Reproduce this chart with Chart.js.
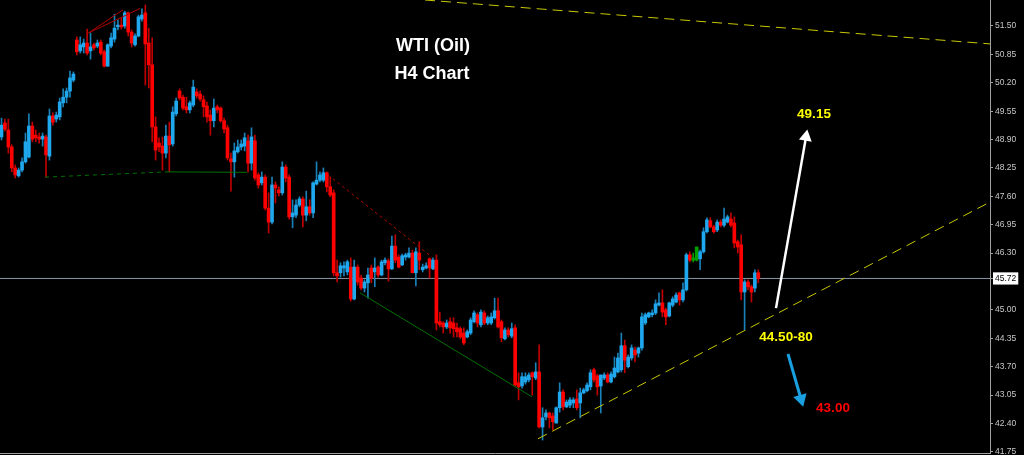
<!DOCTYPE html>
<html>
<head>
<meta charset="utf-8">
<title>WTI (Oil) H4</title>
<script src="https://cdn.jsdelivr.net/npm/chart.js@4.4.1/dist/chart.umd.min.js"></script>
<style>
  html, body { margin: 0; padding: 0; background: #000; }
  #wrap { width: 1024px; height: 455px; position: relative; }
</style>
</head>
<body>
<div id="wrap"><canvas id="myChart"></canvas></div>
<script>
// H4 candles, oldest first
const open = [
  48.96,49.28,49.12,48.73,48.25,48.07,48.20,48.39,48.50,49.21,
  49.00,48.96,48.91,48.96,48.52,49.44,49.37,49.42,49.74,49.87,
  50.01,50.26,51.18,50.93,51.02,51.11,50.93,51.07,51.04,51.13,
  50.91,50.58,51.04,51.20,51.48,51.52,51.50,51.80,51.36,51.07,
  51.27,51.66,51.80,51.11,50.61,49.19,48.82,48.75,48.59,48.98,
  48.80,49.49,50.01,49.87,49.65,49.58,49.69,49.99,49.94,49.81,
  49.67,49.46,49.33,49.65,49.62,49.33,49.17,48.46,48.39,48.62,
  48.73,48.75,48.87,48.36,48.87,48.09,47.91,48.04,47.33,47.01,
  47.86,47.75,47.68,48.27,48.04,47.13,47.17,47.40,47.54,47.17,
  47.36,47.22,47.88,47.97,47.97,48.14,47.82,47.68,45.85,45.85,
  45.96,45.87,45.98,45.25,45.98,45.73,45.50,45.62,45.96,45.87,
  45.98,45.80,46.08,46.12,45.94,46.46,46.21,46.03,46.21,46.21,
  46.30,45.85,46.30,45.92,45.96,46.17,45.94,46.14,44.73,44.70,
  44.61,44.73,44.70,44.59,44.57,44.47,44.38,44.47,44.73,44.89,
  44.66,44.93,44.70,44.70,44.82,44.98,44.73,44.34,44.54,44.40,
  44.59,43.33,43.26,43.35,43.40,43.56,43.44,43.58,42.32,42.55,
  42.64,42.57,42.41,42.76,43.12,42.78,42.82,42.87,42.96,42.87,
  43.10,43.15,43.24,43.63,43.49,43.26,43.44,43.51,43.35,43.47,
  43.58,43.63,44.18,43.70,43.90,44.08,44.01,44.13,44.70,44.84,
  44.89,44.93,45.11,45.16,45.00,44.86,45.11,45.18,45.39,45.23,
  45.46,46.26,46.14,46.14,46.17,46.33,46.79,47.04,46.90,46.83,
  47.01,46.94,47.01,47.08,46.99,46.56,46.49,45.41,45.64,45.53,45.50,45.85
];
const high = [
  49.39,49.37,49.37,48.78,48.32,48.25,48.48,49.05,49.49,49.30,
  49.12,49.05,49.05,49.00,49.60,49.51,49.53,49.85,50.06,50.08,
  50.47,50.45,51.25,51.25,51.20,51.43,51.34,51.11,51.18,51.18,
  50.95,51.09,51.34,51.77,51.64,51.68,51.84,51.82,51.41,51.32,
  51.75,51.89,51.98,51.45,51.23,49.42,48.94,48.96,49.23,49.30,
  49.65,49.85,50.06,49.92,49.87,49.78,50.26,50.06,50.01,49.90,
  49.76,49.58,49.83,49.69,49.65,49.39,49.23,48.59,48.82,48.89,
  48.89,49.05,49.00,49.17,49.00,48.14,48.16,48.09,47.68,48.04,
  47.93,47.82,48.39,48.32,48.09,47.52,47.52,47.59,47.59,47.72,
  47.52,47.93,48.39,48.16,48.25,48.16,48.04,47.75,46.14,46.08,
  46.10,46.14,46.19,46.14,46.03,45.80,45.69,45.96,46.03,46.19,
  46.01,46.14,46.19,46.17,46.69,46.72,46.26,46.28,46.30,46.42,
  46.37,46.42,46.56,46.05,46.08,46.19,46.19,46.26,44.95,44.73,
  44.77,44.82,44.82,44.70,44.61,44.59,44.54,44.82,44.98,44.93,
  45.00,44.98,44.86,44.93,45.27,45.27,44.77,44.59,44.59,44.70,
  44.66,43.56,43.56,43.56,43.56,43.58,43.79,44.20,42.76,42.71,
  42.66,42.64,42.78,43.33,43.17,42.94,42.99,42.99,43.17,43.21,
  43.21,43.33,43.63,43.67,43.53,43.51,43.56,43.56,43.58,43.92,
  44.01,44.47,44.31,43.97,44.20,44.15,44.15,44.93,44.93,44.95,
  45.00,45.23,45.39,45.46,45.04,45.18,45.30,45.39,45.41,45.62,
  46.30,46.33,46.30,46.44,46.37,46.88,47.11,47.11,46.94,47.06,
  47.06,47.33,47.17,47.22,47.13,46.60,46.72,45.69,45.69,45.57,45.92,45.92
];
const low = [
  48.89,49.10,48.59,48.16,48.02,48.04,48.16,48.36,48.48,48.85,
  48.85,48.82,48.75,48.04,48.43,49.23,49.30,49.35,49.65,49.74,
  49.87,50.22,50.84,50.88,50.88,50.84,50.74,50.95,51.00,50.84,
  50.56,50.58,51.00,51.13,51.41,51.43,51.45,51.27,51.02,51.04,
  51.25,51.61,50.15,50.08,48.85,48.43,48.62,48.20,48.48,48.16,
  48.75,49.44,49.81,49.58,49.51,49.51,49.65,49.85,49.78,49.42,
  49.30,49.00,49.19,49.51,49.30,49.05,48.43,47.72,48.04,48.59,
  48.66,48.64,48.16,48.20,47.97,47.79,47.86,47.29,46.76,46.97,
  47.45,47.61,47.63,47.93,47.08,46.88,47.11,47.36,46.90,47.04,
  47.17,47.11,47.86,47.93,47.93,47.70,47.59,45.78,45.64,45.75,
  45.78,45.80,45.20,45.23,45.57,45.46,45.41,45.27,45.62,45.53,
  45.75,45.78,46.03,45.66,45.92,46.08,45.96,46.01,46.14,46.19,
  45.85,45.55,45.92,45.87,45.94,45.73,45.92,44.54,44.61,44.47,
  44.57,44.47,44.38,44.38,44.34,44.20,44.36,44.43,44.70,44.61,
  44.61,44.66,44.66,44.66,44.79,44.59,44.27,44.31,44.38,44.36,
  43.24,42.94,43.21,43.30,43.35,43.05,43.40,42.30,42.02,42.48,
  42.30,42.25,42.41,42.66,42.71,42.76,42.76,42.76,42.71,42.53,
  43.08,43.12,43.17,43.35,43.05,42.64,43.40,43.33,43.33,43.44,
  43.56,43.58,43.56,43.67,43.85,43.81,43.92,44.08,44.66,44.82,
  44.84,44.89,45.09,44.84,44.66,44.84,45.07,45.16,45.11,45.18,
  45.43,46.10,46.10,46.12,45.92,46.30,46.76,46.88,46.76,46.79,
  46.90,46.90,46.99,46.90,46.42,46.30,45.23,44.54,45.46,45.18,45.41,45.62
];
const close = [
  49.23,49.14,48.73,48.25,48.09,48.20,48.39,48.85,49.21,48.91,
  48.94,48.91,48.98,48.55,49.44,49.30,49.46,49.76,49.87,50.01,
  50.31,50.40,50.91,51.07,51.11,50.88,51.02,51.00,51.11,50.88,
  50.58,51.07,51.23,51.45,51.52,51.48,51.80,51.36,51.11,51.27,
  51.71,51.75,51.09,50.61,49.19,48.66,48.73,48.59,48.98,48.78,
  49.53,49.78,49.85,49.62,49.58,49.74,50.10,49.90,49.83,49.65,
  49.42,49.33,49.62,49.58,49.33,49.14,48.48,48.39,48.64,48.73,
  48.80,48.94,48.36,48.96,48.02,47.86,48.04,47.33,47.01,47.86,
  47.79,47.68,48.27,48.02,47.13,47.22,47.40,47.54,47.17,47.36,
  47.22,47.91,47.97,48.09,48.14,47.82,47.63,45.85,45.78,46.01,
  46.01,46.10,45.25,45.98,45.64,45.50,45.64,45.80,45.73,45.96,
  45.80,46.10,46.14,45.94,46.46,46.14,45.98,46.24,46.26,46.30,
  45.85,46.33,46.14,45.98,46.01,45.96,46.14,44.70,44.66,44.61,
  44.70,44.59,44.57,44.50,44.38,44.24,44.50,44.77,44.93,44.70,
  44.95,44.70,44.82,44.84,44.98,44.61,44.36,44.54,44.43,44.57,
  43.28,43.24,43.47,43.47,43.51,43.47,43.58,42.32,42.53,42.64,
  42.53,42.44,42.76,43.12,42.78,42.89,42.94,42.94,42.76,43.10,
  43.17,43.28,43.56,43.40,43.24,43.51,43.51,43.35,43.53,43.67,
  43.90,44.18,43.85,43.92,44.13,43.97,44.13,44.84,44.89,44.93,
  44.93,45.14,45.16,44.95,44.84,45.16,45.25,45.34,45.23,45.46,
  46.26,46.14,46.19,46.44,46.33,46.79,47.06,46.90,46.79,47.01,
  46.94,47.08,47.13,46.94,46.53,46.44,45.41,45.64,45.53,45.41,45.85,45.72
];

const yTicks = [52.15, 51.50, 50.85, 50.20, 49.55, 48.90, 48.25, 47.60, 46.95,
                46.30, 45.72, 45.00, 44.35, 43.70, 43.05, 42.40, 41.75];
const lastPrice = 45.72;
const greenBars = [202, 203];   // the two green candles near the top of the rally

// drawn lines, as [bar index, price] pairs
const resistanceLine = [[123.67, 52.095], [288.66, 51.09]];
const supportLine = [[156.67, 42.05], [288.66, 47.47]];
const topLine1 = [[25.41, 51.34], [35.48, 51.87]];
const topLine2 = [[25.41, 51.34], [40.44, 51.90]];
const redChannel = [[95.35, 48.09], [125.72, 46.21]];
const greenBase1 = [[12.70, 48.04], [48.33, 48.16]];
const greenBase2 = [[48.33, 48.16], [71.69, 48.15]];
const greenChannel = [[104.69, 45.39], [154.92, 43.01]];
const upArrow = [[226.17, 45.04], [234.93, 48.96]];
const downArrow = [[229.67, 43.99], [233.47, 42.96]];

const X_MIN = -0.438, X_MAX = 288.66;

const BLUE = '#1fa8ee', BLUE_WICK = '#1a80b8';
const RED = '#ff0000', RED_WICK = '#c00000';
const GREEN = '#00a000';

const bodyColors = open.map((o, i) => greenBars.includes(i) ? GREEN : (close[i] >= o ? BLUE : RED));
const wickColors = open.map((o, i) => greenBars.includes(i) ? GREEN : (close[i] >= o ? BLUE_WICK : RED_WICK));

const pts = arr => arr.map(p => ({ x: p[0], y: p[1] }));

function lineSet(arr, color, width, dash) {
  return {
    type: 'line',
    data: pts(arr),
    borderColor: color,
    borderWidth: width,
    borderDash: dash || [],
    pointRadius: 0,
    order: 0,
  };
}

function arrowSet(arr, color, width, rotation) {
  return {
    type: 'line',
    data: pts(arr),
    borderColor: color,
    borderWidth: width,
    pointRadius: [0, 5],
    pointStyle: 'triangle',
    pointRotation: [0, rotation],
    pointBackgroundColor: color,
    pointBorderColor: color,
    order: 0,
  };
}

// free text on the chart
const notes = [
  { text: 'WTI (Oil)', x: 433, y: 46, color: '#ffffff', font: 'bold 18px "Liberation Sans", Arial' },
  { text: 'H4 Chart', x: 432, y: 74, color: '#ffffff', font: 'bold 18px "Liberation Sans", Arial' },
  { text: '49.15', x: 814, y: 114, color: '#ffff00', font: 'bold 13.5px "Liberation Sans", Arial' },
  { text: '44.50-80', x: 786, y: 337, color: '#ffff00', font: 'bold 13.5px "Liberation Sans", Arial' },
  { text: '43.00', x: 833, y: 408, color: '#ff0000', font: 'bold 13.5px "Liberation Sans", Arial' },
];

const notesPlugin = {
  id: 'notes',
  afterDatasetsDraw(chart) {
    const c = chart.ctx;
    c.save();
    c.textAlign = 'center';
    c.textBaseline = 'middle';
    notes.forEach(n => {
      c.font = n.font;
      c.fillStyle = n.color;
      c.fillText(n.text, n.x, n.y);
    });
    c.restore();
  }
};

const ctx = document.getElementById('myChart');

new Chart(ctx, {
  type: 'bar',
  data: {
    datasets: [
      lineSet(resistanceLine, '#c8c800', 1, [10, 6]),
      lineSet(supportLine, '#c8c800', 1, [10, 6]),
      lineSet(topLine1, '#b00000', 1),
      lineSet(topLine2, '#b00000', 1),
      lineSet(redChannel, '#b00000', 1, [3, 3]),
      lineSet(greenBase1, '#007000', 1, [4, 4]),
      lineSet(greenBase2, '#007000', 1),
      lineSet(greenChannel, '#007000', 1),
      arrowSet(upArrow, '#ffffff', 2.5, 10),
      arrowSet(downArrow, '#1aa0e0', 3, 164),
      {
        type: 'bar',
        label: 'body',
        data: open.map((o, i) => ({ x: i, y: [o, close[i]] })),
        backgroundColor: bodyColors,
        barThickness: 3,
        minBarLength: 1,
        grouped: false,
        order: 1,
      },
      {
        type: 'bar',
        label: 'wick',
        data: open.map((o, i) => ({ x: i, y: [low[i], high[i]] })),
        backgroundColor: wickColors,
        barThickness: 1,
        minBarLength: 1,
        grouped: false,
        order: 2,
      },
      {
        type: 'line',
        label: 'last price',
        data: [{ x: X_MIN, y: lastPrice }, { x: X_MAX, y: lastPrice }],
        borderColor: '#8796a6',
        borderWidth: 1,
        pointRadius: 0,
        order: 3,
      },
    ],
  },
  options: {
    responsive: true,
    maintainAspectRatio: false,
    animation: false,
    events: [],
    layout: { autoPadding: false, padding: { left: 0, right: 0, top: 0, bottom: 2 } },
    scales: {
      x: {
        type: 'linear',
        min: X_MIN,
        max: X_MAX,
        offset: false,
        grid: { display: false, drawTicks: false },
        ticks: { display: false },
        border: { display: true, color: '#a0a0a0' },
      },
      y: {
        position: 'right',
        min: 41.724,
        max: 52.095,
        beginAtZero: false,
        afterBuildTicks: scale => {
          scale.ticks = yTicks.map(v => ({ value: v }));
        },
        afterFit: scale => {
          scale.width = 34;
          scale.paddingTop = 0;
          scale.paddingBottom = 0;
        },
        grid: {
          drawOnChartArea: false,
          drawTicks: true,
          tickLength: 3,
          color: '#a0a0a0',
        },
        border: { display: true, color: '#a0a0a0' },
        ticks: {
          autoSkip: false,
          padding: 2,
          font: { family: '"Liberation Sans", Arial', size: 8.5 },
          color: c => (c.tick && c.tick.value === lastPrice ? '#000000' : '#c8c8c8'),
          showLabelBackdrop: c => !!(c.tick && c.tick.value === lastPrice),
          backdropColor: '#ffffff',
          backdropPadding: { x: 2, y: 1 },
          callback: v => Number(v).toFixed(2),
        },
      },
    },
    plugins: {
      legend: { display: false },
      tooltip: { enabled: false },
    },
  },
  plugins: [notesPlugin],
});
</script>
</body>
</html>
